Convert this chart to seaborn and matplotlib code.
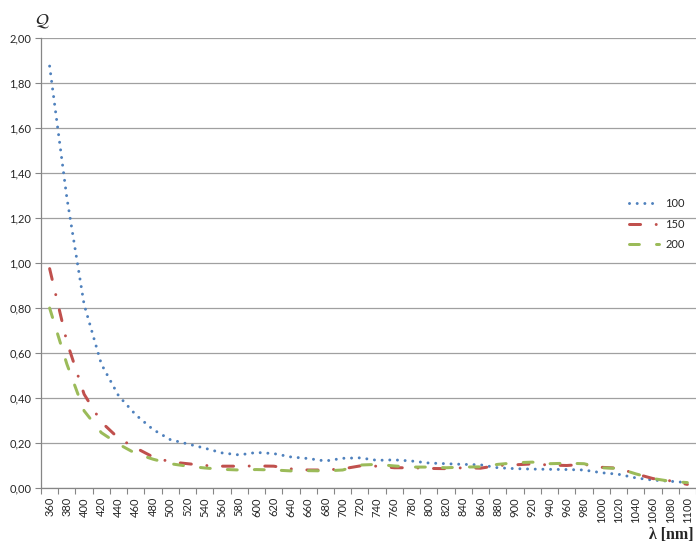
import matplotlib
matplotlib.use("Agg")
import matplotlib.pyplot as plt
from matplotlib.ticker import FixedLocator, FuncFormatter
import pandas as pd
import seaborn as sns

# Wavelength categories (nm)
wavelengths = [360, 380, 400, 420, 440, 460, 480, 500, 520, 540, 560, 580, 600,
               620, 640, 660, 680, 700, 720, 740, 760, 780, 800, 820, 840, 860,
               880, 900, 920, 940, 960, 980, 1000, 1020, 1040, 1060, 1080, 1100]

series_names = ["100", "150", "200"]

q_100 = [1.875, 1.29, 0.816, 0.551, 0.41, 0.325, 0.26, 0.215, 0.196, 0.177,
         0.156, 0.147, 0.158, 0.153, 0.138, 0.131, 0.12, 0.132, 0.134, 0.123,
         0.125, 0.12, 0.111, 0.108, 0.105, 0.103, 0.09, 0.086, 0.084, 0.083,
         0.082, 0.08, 0.068, 0.061, 0.045, 0.035, 0.03, 0.024]

q_150 = [0.975, 0.65, 0.417, 0.293, 0.221, 0.178, 0.138, 0.116, 0.108, 0.10,
         0.097, 0.097, 0.098, 0.097, 0.085, 0.08, 0.08, 0.085, 0.098, 0.097,
         0.09, 0.09, 0.087, 0.086, 0.09, 0.088, 0.10, 0.103, 0.107, 0.102,
         0.10, 0.105, 0.092, 0.088, 0.063, 0.042, 0.032, 0.016]

q_200 = [0.80, 0.551, 0.343, 0.246, 0.195, 0.153, 0.128, 0.108, 0.097, 0.089,
         0.083, 0.08, 0.082, 0.08, 0.076, 0.077, 0.076, 0.08, 0.102, 0.105,
         0.098, 0.093, 0.093, 0.09, 0.093, 0.094, 0.105, 0.112, 0.115, 0.108,
         0.11, 0.108, 0.09, 0.087, 0.063, 0.042, 0.03, 0.024]

y_ticks = [0.0, 0.2, 0.4, 0.6, 0.8, 1.0, 1.2, 1.4, 1.6, 1.8, 2.0]

colors = {"100": "#4F81BD", "150": "#C0504D", "200": "#9BBB59"}
# dash patterns in units of line width
dash_styles = {"100": (0.01, 2.55),
               "150": (3.7, 5.2, 0.01, 5.2),
               "200": (3.3, 5.7)}

frames = []
for name, vals in zip(series_names, [q_100, q_150, q_200]):
    frames.append(pd.DataFrame({"wl": wavelengths, "Q": vals, "series": name}))
df = pd.concat(frames, ignore_index=True)

sns.set_theme(style="white")
plt.rcParams["font.family"] = ["Lato", "DejaVu Sans"]

fig = plt.figure(figsize=(6.96, 5.45), dpi=100)
ax = fig.add_axes([41 / 696, 1 - 488 / 545, 1 - 41 / 696, (488 - 38) / 545])

lw = 2.16
sns.lineplot(data=df, x="wl", y="Q", hue="series", style="series",
             palette=colors, dashes=dash_styles, hue_order=series_names,
             style_order=series_names, estimator=None, sort=False,
             linewidth=lw, legend=False, ax=ax)

for line in ax.lines:
    line.set_dash_capstyle("round")
    line.set_solid_capstyle("round")
    line.set_dash_joinstyle("round")

ax.set_xlim(wavelengths[0] - 10, wavelengths[-1] + 10)
ax.set_ylim(0, 2.0)

ax.xaxis.set_major_locator(FixedLocator(wavelengths))
ax.xaxis.set_minor_locator(FixedLocator([w - 10 for w in wavelengths] + [wavelengths[-1] + 10]))
ax.tick_params(axis="x", which="major", length=0, pad=6.5, labelrotation=90,
               labelsize=8, labelcolor="#262626")
ax.tick_params(axis="x", which="minor", length=4, width=0.8, color="#868686",
               direction="out", bottom=True)

ax.yaxis.set_major_locator(FixedLocator(y_ticks))
ax.yaxis.set_major_formatter(FuncFormatter(lambda v, p: f"{v:.2f}".replace(".", ",")))
ax.tick_params(axis="y", which="major", length=4, width=0.8, color="#868686",
               direction="out", left=True, pad=3, labelsize=8, labelcolor="#262626")

ax.grid(axis="y", color="#a0a0a0", linewidth=0.9)
ax.grid(axis="x", visible=False)
ax.set_axisbelow(True)

for side in ["top", "right"]:
    ax.spines[side].set_visible(False)
for side in ["left", "bottom"]:
    ax.spines[side].set_color("#868686")
    ax.spines[side].set_linewidth(0.9)

ax.set_xlabel("")
ax.set_ylabel("")

handles = ax.lines[:3]
ax.legend(handles, series_names, loc="center left",
          bbox_to_anchor=(629 / 696, 1 - 224 / 545), bbox_transform=fig.transFigure,
          frameon=False, borderpad=0, borderaxespad=0, handlelength=2.7,
          handletextpad=0.55, labelspacing=0.85, fontsize=8,
          labelcolor="#262626")

fig.text(42 / 696, 1 - 21 / 545, r"$\mathcal{Q}$", fontsize=13,
         ha="center", va="center", math_fontfamily="stix", color="#262626")
fig.text(694 / 696, 1 - 535 / 545, "λ [nm]", fontsize=11.5, ha="right",
         va="center", family="Liberation Serif", weight="bold", color="#262626")

fig.savefig("out.png", dpi=100)
